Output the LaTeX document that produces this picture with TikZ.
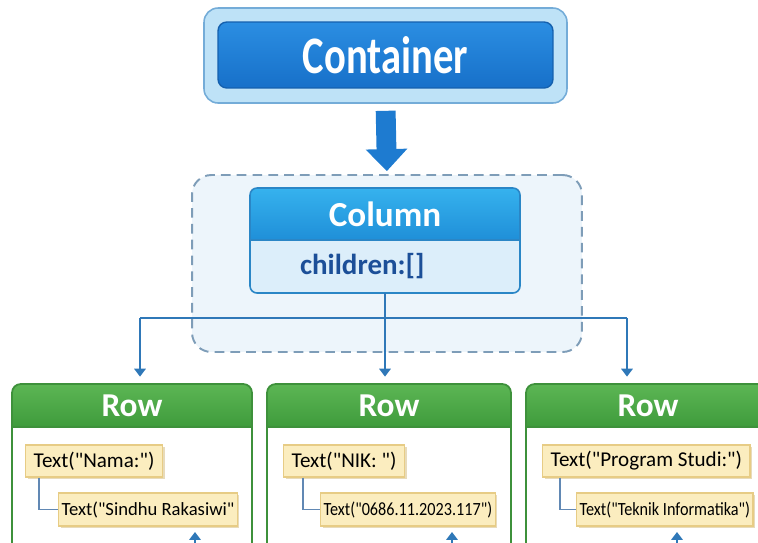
\documentclass[tikz,border=0pt]{standalone}
\usepackage{fontspec}
\setmainfont{Carlito}[Ligatures=TeXOff]
\newfontfamily\narrowfont{Carlito}[FakeStretch=0.77,Ligatures=TeXOff]
\newfontfamily\squeezefont{Carlito}[FakeStretch=0.87,Ligatures=TeXOff]
\usepackage{xcolor}
\usetikzlibrary{positioning,calc,arrows.meta,shadows}

\definecolor{outerblue}{HTML}{BEE2F7}
\definecolor{outerline}{HTML}{74ACD8}
\definecolor{contTop}{HTML}{2B8EE2}
\definecolor{contBot}{HTML}{1770C9}
\definecolor{contLine}{HTML}{1460AE}
\definecolor{arrowblue}{HTML}{1E7BD0}
\definecolor{frameFill}{HTML}{EDF5FB}
\definecolor{frameLine}{HTML}{7E9DB8}
\definecolor{colTop}{HTML}{36B2EE}
\definecolor{colBot}{HTML}{1F8FD8}
\definecolor{colBody}{HTML}{DCEEFA}
\definecolor{colLine}{HTML}{2A86C6}
\definecolor{childText}{HTML}{1C4F98}
\definecolor{linkblue}{HTML}{2F78B8}
\definecolor{rowTop}{HTML}{5CB654}
\definecolor{rowBot}{HTML}{3F9B3C}
\definecolor{rowLine}{HTML}{3E913B}
\definecolor{noteFill}{HTML}{FBEDBF}
\definecolor{noteLine}{HTML}{E7CC85}
\definecolor{noteShade}{HTML}{D9C48C}
\definecolor{subLine}{HTML}{6188B4}

\begin{document}
\begin{tikzpicture}[x=0.02cm,y=-0.02cm,
    headtext/.style={text=white, font=\fontsize{19}{21}\selectfont\bfseries},
    link/.style={draw=linkblue, line width=1.1pt, -{Triangle[length=4.5pt,width=6.5pt]}},
    note/.style={fill=noteFill, draw=noteLine, line width=0.7pt, anchor=west,
                 drop shadow={shadow xshift=1.2pt, shadow yshift=-1.2pt, fill=noteShade, opacity=0.6}}]
  \useasboundingbox (0,0) rectangle (758,542);
  \clip (0,0) rectangle (758,542);

  % Container
  \node[draw=outerline, fill=outerblue, line width=0.9pt, rounded corners=8pt,
        minimum width=7.26cm, minimum height=1.9cm] (outer) at (385.5,55.5) {};
  \node[draw=contLine, top color=contTop, bottom color=contBot, line width=0.8pt,
        rounded corners=5pt, minimum width=6.7cm, minimum height=1.32cm,
        text=white, font=\narrowfont\fontsize{30}{32}\selectfont\bfseries] (container) at (385.5,55) {Container};

  % kotak putus-putus di sekitar Column
  \node[draw=frameLine, fill=frameFill, line width=1.1pt, dash pattern=on 5.5pt off 3.5pt,
        rounded corners=11pt, minimum width=7.8cm, minimum height=3.54cm] (group) at (387,263.5) {};

  \draw[draw=arrowblue, line width=11.3pt, -{Triangle[length=12.5pt,width=23pt]},
        shorten <=4pt, shorten >=1.7pt] (outer.south) -- (group.north);

  % Column
  \begin{scope}
    \clip[rounded corners=4pt] (250,188) rectangle (520,293);
    \fill[colBody] (250,188) rectangle (520,293);
    \shade[top color=colTop, bottom color=colBot] (250,188) rectangle (520,240);
  \end{scope}
  \draw[colLine, line width=0.9pt, rounded corners=4pt] (250,188) rectangle (520,293);
  \draw[colLine, line width=0.9pt] (250,240) -- (520,240);
  \node[headtext, font=\fontsize{20}{22}\selectfont\bfseries, minimum width=5.4cm, minimum height=1.04cm] (colhead) at (385,214) {Column};
  \node[text=childText, font=\fontsize{16.5}{18}\selectfont\bfseries, text width=3.4cm, align=left,
        inner xsep=0pt, minimum height=1.06cm] (colbody) at (385,266.5) {children:[]};

  % tiga Row
  \foreach \l/\r/\i in {12/252/1, 267/511/2, 526/770/3} {
    \begin{scope}
      \clip[rounded corners=5pt] (\l,384) rectangle (\r,600);
      \fill[white] (\l,384) rectangle (\r,600);
      \shade[top color=rowTop, bottom color=rowBot] (\l,384) rectangle (\r,427);
    \end{scope}
    \draw[rowLine, line width=1pt, rounded corners=5pt] (\l,384) rectangle (\r,600);
    \draw[rowLine, line width=1pt] (\l,427) -- (\r,427);
    \node[headtext, minimum height=0.86cm] (row\i) at ({(\l+\r)/2},405.5) {Row};
  }

  % percabangan children
  \coordinate (hubL) at (140,318);
  \coordinate (hubR) at (627,318);
  \draw[draw=linkblue, line width=1.1pt] (hubL) -- (hubR);
  \draw[link, shorten >=4pt] (colbody.south) -- (colbody.south |- row2.north);
  \draw[link, shorten >=4pt] (hubL) -- (hubL |- row1.north);
  \draw[link, shorten >=4pt] (hubR) -- (hubR |- row3.north);

  % isi tiap Row
  \foreach \i/\ax/\bx/\dx/\ta/\tb in {
      1/25/58/14/{Text("Nama:")}/{Text("Sindhu Rakasiwi"},
      2/283/320/20/{Text("NIK: ")}/{\squeezefont Text("0686.11.2023.117")},
      3/542/576/18/{Text("Program Studi:")}/{\squeezefont Text("Teknik Informatika")}} {
    \node[note, inner xsep=0.16cm, minimum height=0.64cm, font=\fontsize{12}{14}\selectfont] (a\i) at (\ax,461) {\ta};
    \node[note, inner xsep=0.06cm, minimum height=0.66cm, font=\fontsize{10.6}{12}\selectfont] (b\i) at (\bx,509.5) {\tb};
    \draw[subLine, line width=0.9pt] ([xshift=\dx*0.02cm]a\i.south west) |- (b\i.west);
  }

  % panah di bawah (terpotong)
  \foreach \x [count=\k] in {195,452,677} {
    \coordinate (foot\k) at (\x,570);
    \coordinate (tip\k) at (\x,532);
    \draw[link] (foot\k) -- (tip\k);
  }
\end{tikzpicture}
\end{document}
